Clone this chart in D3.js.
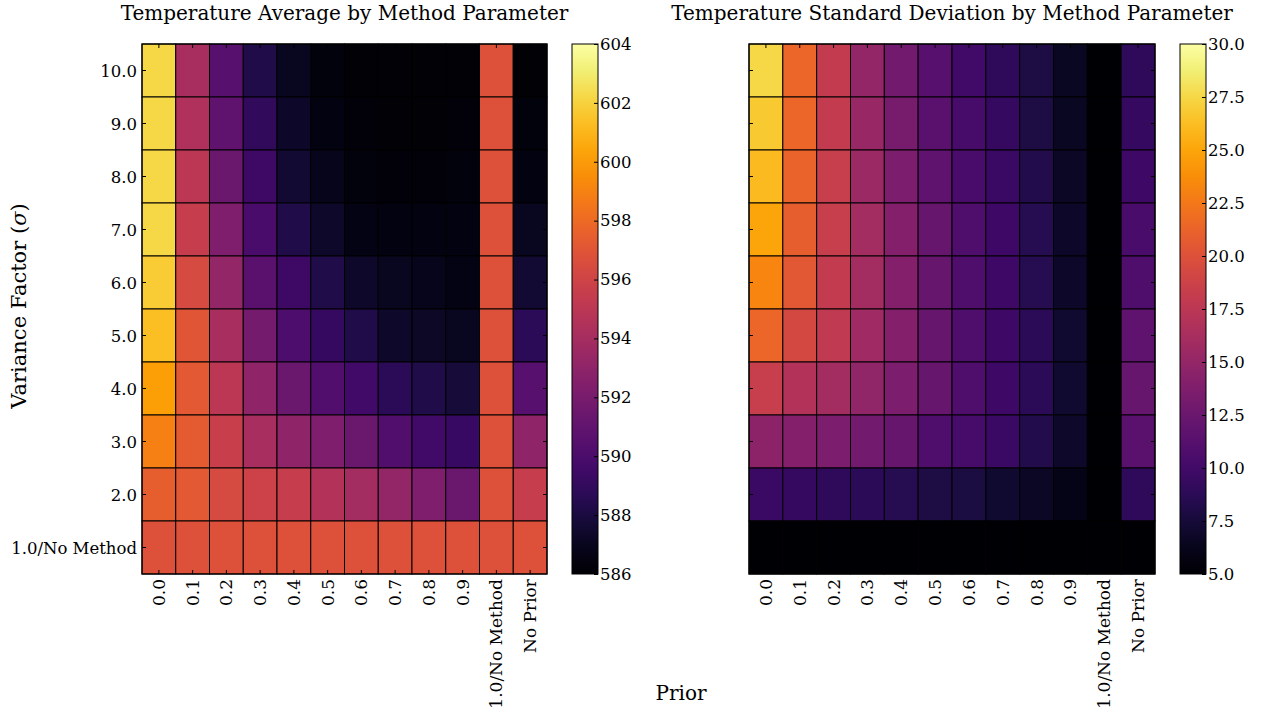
<!DOCTYPE html>
<html>
<head>
<meta charset="utf-8">
<script src="https://cdn.jsdelivr.net/npm/d3@7"></script>
<style>
  body { margin: 0; background: #fff; }
  svg text { font-family: "DejaVu Serif", serif; fill: #000; }
</style>
</head>
<body>
<svg id="chart" width="1261" height="713"></svg>
<script>
// column / row labels
var priors = ['0.0','0.1','0.2','0.3','0.4','0.5','0.6','0.7','0.8','0.9','1.0/No Method','No Prior'];
var factors = ['10.0','9.0','8.0','7.0','6.0','5.0','4.0','3.0','2.0','1.0/No Method'];

// temperature average, rows top -> bottom
var avgValues = [
  [602.2, 594.1, 590.5, 588.3, 587.0, 586.4, 586.2, 586.2, 586.2, 586.2, 596.8, 586.2],
  [602.2, 594.5, 590.9, 588.9, 587.3, 586.5, 586.3, 586.2, 586.2, 586.3, 596.8, 586.4],
  [602.2, 595.0, 591.4, 589.4, 587.6, 586.9, 586.4, 586.3, 586.3, 586.4, 596.8, 586.5],
  [602.2, 595.5, 592.3, 590.0, 588.3, 587.4, 586.7, 586.5, 586.5, 586.5, 596.8, 587.0],
  [601.8, 596.4, 593.2, 590.7, 589.4, 588.2, 587.4, 587.0, 586.9, 586.7, 596.8, 587.6],
  [601.3, 597.0, 594.1, 591.9, 590.1, 589.1, 588.2, 587.4, 587.2, 587.0, 596.8, 588.7],
  [600.2, 597.2, 595.0, 593.0, 591.4, 590.3, 589.6, 588.7, 588.2, 587.8, 596.8, 590.5],
  [599.0, 597.3, 595.7, 594.1, 593.0, 592.3, 591.4, 590.3, 589.6, 589.2, 596.8, 593.0],
  [597.5, 597.2, 596.4, 595.9, 595.5, 594.6, 593.9, 593.2, 592.3, 591.4, 596.8, 595.5],
  [596.8, 596.8, 596.8, 596.8, 596.8, 596.8, 596.8, 596.8, 596.8, 596.8, 596.8, 596.8]
];

// temperature standard deviation, rows top -> bottom
var stdValues = [
  [27.5, 21.5, 18.0, 15.0, 13.0, 11.3, 10.0, 9.0, 8.0, 6.5, 5.0, 9.0],
  [26.8, 21.5, 18.0, 15.3, 13.3, 11.5, 10.3, 9.3, 8.0, 6.5, 5.0, 9.3],
  [26.0, 21.3, 18.3, 15.5, 13.5, 11.8, 10.5, 9.5, 8.3, 6.6, 5.0, 9.8],
  [25.0, 21.0, 18.3, 16.0, 14.0, 12.3, 10.8, 9.8, 8.5, 6.8, 5.0, 10.5],
  [23.3, 20.5, 18.0, 16.0, 14.0, 12.3, 10.8, 9.8, 8.5, 6.8, 5.0, 10.8],
  [21.5, 19.3, 17.8, 15.8, 14.0, 12.3, 10.8, 9.8, 8.8, 7.1, 5.0, 11.8],
  [18.3, 17.0, 16.0, 14.8, 13.5, 12.3, 10.8, 9.8, 8.8, 7.1, 5.0, 12.3],
  [14.5, 14.0, 13.5, 13.0, 12.3, 10.8, 10.3, 9.5, 8.3, 6.9, 5.0, 11.5],
  [9.5, 9.3, 9.0, 8.8, 8.5, 8.0, 7.8, 7.1, 6.6, 6.0, 5.0, 9.0],
  [5.0, 5.0, 5.0, 5.0, 5.0, 5.0, 5.0, 5.0, 5.0, 5.0, 5.0, 5.0]
];

var avgTicks = [586, 588, 590, 592, 594, 596, 598, 600, 602, 604];
var stdTicks = [5.0, 7.5, 10.0, 12.5, 15.0, 17.5, 20.0, 22.5, 25.0, 27.5, 30.0];

var svg = d3.select('#chart');
var plotTop = 44, plotBottom = 574;

function heatmap(opts) {
  var x = d3.scaleBand().domain(priors).range([opts.x0, opts.x1]);
  var y = d3.scaleBand().domain(factors).range([plotTop, plotBottom]);
  var color = d3.scaleSequential(d3.interpolateInferno).domain(opts.domain).clamp(true);

  var g = svg.append('g');
  var cells = [];
  opts.values.forEach(function(row, i) {
    row.forEach(function(v, j) { cells.push({ r: factors[i], c: priors[j], v: v }); });
  });

  g.selectAll('rect.cell').data(cells).enter().append('rect')
    .attr('class', 'cell')
    .attr('x', function(d) { return x(d.c); })
    .attr('y', function(d) { return y(d.r); })
    .attr('width', x.bandwidth())
    .attr('height', y.bandwidth())
    .style('fill', function(d) { return color(d.v); })
    .style('stroke', '#000')
    .style('stroke-width', 1);

  // inward ticks on all four sides
  var tick = 4;
  priors.forEach(function(p) {
    var cx = x(p) + x.bandwidth() / 2;
    g.append('line').attr('x1', cx).attr('x2', cx).attr('y1', plotBottom).attr('y2', plotBottom - tick).style('stroke', '#000');
    g.append('line').attr('x1', cx).attr('x2', cx).attr('y1', plotTop).attr('y2', plotTop + tick).style('stroke', '#000');
  });
  factors.forEach(function(f) {
    var cy = y(f) + y.bandwidth() / 2;
    g.append('line').attr('x1', opts.x0).attr('x2', opts.x0 + tick).attr('y1', cy).attr('y2', cy).style('stroke', '#000');
    g.append('line').attr('x1', opts.x1).attr('x2', opts.x1 - tick).attr('y1', cy).attr('y2', cy).style('stroke', '#000');
  });

  g.append('rect')
    .attr('x', opts.x0).attr('y', plotTop)
    .attr('width', opts.x1 - opts.x0).attr('height', plotBottom - plotTop)
    .style('fill', 'none').style('stroke', '#000').style('stroke-width', 1.2);

  // x tick labels
  priors.forEach(function(p) {
    var cx = x(p) + x.bandwidth() / 2;
    g.append('text')
      .attr('transform', 'translate(' + (cx + 6) + ',' + (plotBottom + 5) + ') rotate(-90)')
      .attr('text-anchor', 'end')
      .style('font-size', '17px')
      .text(p);
  });

  if (opts.yLabels) {
    factors.forEach(function(f) {
      g.append('text')
        .attr('x', opts.x0 - 5)
        .attr('y', y(f) + y.bandwidth() / 2 + 6)
        .attr('text-anchor', 'end')
        .style('font-size', '16.5px')
        .text(f);
    });
  }

  g.append('text')
    .attr('x', (opts.x0 + opts.x1) / 2)
    .attr('y', 20)
    .attr('text-anchor', 'middle')
    .style('font-size', '20px')
    .text(opts.title);

  // colorbar
  var cb = d3.scaleLinear().domain(opts.domain).range([plotBottom, plotTop]);
  var gradId = 'grad' + opts.id;
  var grad = svg.append('defs').append('linearGradient')
    .attr('id', gradId).attr('x1', 0).attr('y1', 1).attr('x2', 0).attr('y2', 0);
  d3.range(0, 1.0001, 0.05).forEach(function(t) {
    grad.append('stop').attr('offset', t).attr('stop-color', d3.interpolateInferno(t));
  });
  svg.append('rect')
    .attr('x', opts.cbx).attr('y', plotTop)
    .attr('width', 26).attr('height', plotBottom - plotTop)
    .style('fill', 'url(#' + gradId + ')')
    .style('stroke', '#000').style('stroke-width', 1);

  var axis = d3.axisRight(cb).tickValues(opts.ticks).tickSize(0).tickPadding(2)
    .tickFormat(opts.fmt);
  var ga = svg.append('g').attr('transform', 'translate(' + (opts.cbx + 26) + ',0)').call(axis);
  ga.select('.domain').remove();
  ga.selectAll('text').style('font-family', '"DejaVu Serif", serif').style('font-size', '16.5px').attr('fill', '#000');
  ga.selectAll('.tick').append('line')
    .attr('x1', 0).attr('x2', -4).attr('y1', 0).attr('y2', 0).style('stroke', '#000');
}

heatmap({ id: 'a', x0: 142, x1: 547, cbx: 572, values: avgValues, domain: [586, 604],
  ticks: avgTicks, fmt: d3.format('d'), yLabels: true,
  title: 'Temperature Average by Method Parameter' });
heatmap({ id: 's', x0: 749, x1: 1155, cbx: 1180, values: stdValues, domain: [5, 30],
  ticks: stdTicks, fmt: d3.format('.1f'), yLabels: false,
  title: 'Temperature Standard Deviation by Method Parameter' });

// axis titles
var yl = svg.append('text')
  .attr('transform', 'translate(26,306) rotate(-90)')
  .attr('text-anchor', 'middle')
  .style('font-size', '21px');
yl.append('tspan').text('Variance Factor (');
yl.append('tspan').style('font-style', 'italic').text('σ');
yl.append('tspan').text(')');

svg.append('text')
  .attr('x', 681).attr('y', 700)
  .attr('text-anchor', 'middle')
  .style('font-size', '20px')
  .text('Prior');
</script>
</body>
</html>
